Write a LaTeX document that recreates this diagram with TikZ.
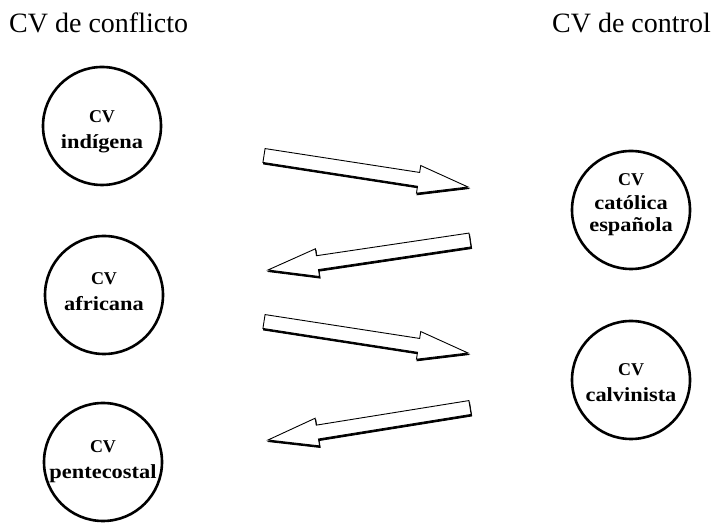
\documentclass[tikz,border=0pt]{standalone}
\usepackage{fontspec}
\setmainfont{Liberation Serif}
\usetikzlibrary{calc}
\tikzset{
  x=1pt, y=1pt,
  cvcircle/.style={circle, draw, line width=2.6pt, minimum size=118pt, inner sep=0pt},
  cvtext/.style={align=center, font=\bfseries\fontsize{18}{22}\selectfont, inner sep=0pt},
  titletext/.style={font=\fontsize{28}{30}\selectfont, inner sep=0pt, anchor=base west},
  blockarrow/.style={draw=black, fill=white, line width=0.9pt, line join=miter},
  arrowshadow/.style={fill=black, draw=black, line width=0.9pt, line join=miter},
}
\newcommand\lw[1]{\scalebox{1.12}[1]{\fontsize{20}{23}\selectfont #1}}
% #1 tail, #2 tip, #3 head-base coordinate, #4 path options
\newcommand\arrowpoly[4]{%
  \path[#4] ($(#1)!7pt!90:(#2)$) -- ($(#3)!7pt!90:(#2)$) -- ($(#3)!14pt!90:(#2)$)
    -- (#2) -- ($(#3)!14pt!-90:(#2)$) -- ($(#3)!7pt!-90:(#2)$)
    -- ($(#1)!7pt!-90:(#2)$) -- cycle;}
\newcommand\drawblockarrow[3]{%
  \coordinate (#3) at ($(#2)!50pt!(#1)$);
  \begin{scope}[transform canvas={shift={(0.6pt,-1.6pt)}}]
    \arrowpoly{#1}{#2}{#3}{arrowshadow}
  \end{scope}
  \arrowpoly{#1}{#2}{#3}{blockarrow}}
\begin{document}
\begin{tikzpicture}
\useasboundingbox (0,0) rectangle (712,524);
% titles
\node[titletext] (ttl1) at (9,491) {CV de conflicto};
\node[titletext, anchor=base east] (ttl2) at (711,491) {CV de control};
% circles
\node[cvcircle] (c1) at (102,398) {};
\node[cvcircle] (c2) at (104,229) {};
\node[cvcircle] (c3) at (103,62) {};
\node[cvcircle] (c4) at (631,314) {};
\node[cvcircle] (c5) at (631,144) {};
\node[cvtext] (l1) at (102,392) {CV\\[4pt]\lw{indígena}};
\node[cvtext] (l2) at (104,232) {CV\\[4pt]\lw{africana}};
\node[cvtext] (l3) at (103,62) {CV\\[4pt]\lw{pentecostal}};
\node[cvtext] (l4) at (631,319) {CV\\[2pt]\lw{católica}\\\lw{española}};
\node[cvtext] (l5) at (631,141) {CV\\[4pt]\lw{calvinista}};
% arrows
\coordinate (a1s) at (264,368.5); \coordinate (a1e) at (468,337);
\coordinate (a2s) at (470,284);   \coordinate (a2e) at (268,254);
\coordinate (a3s) at (264,202.5); \coordinate (a3e) at (468,171);
\coordinate (a4s) at (470,116.5); \coordinate (a4e) at (268,84);
\drawblockarrow{a1s}{a1e}{a1h}
\drawblockarrow{a2s}{a2e}{a2h}
\drawblockarrow{a3s}{a3e}{a3h}
\drawblockarrow{a4s}{a4e}{a4h}
\end{tikzpicture}
\end{document}
